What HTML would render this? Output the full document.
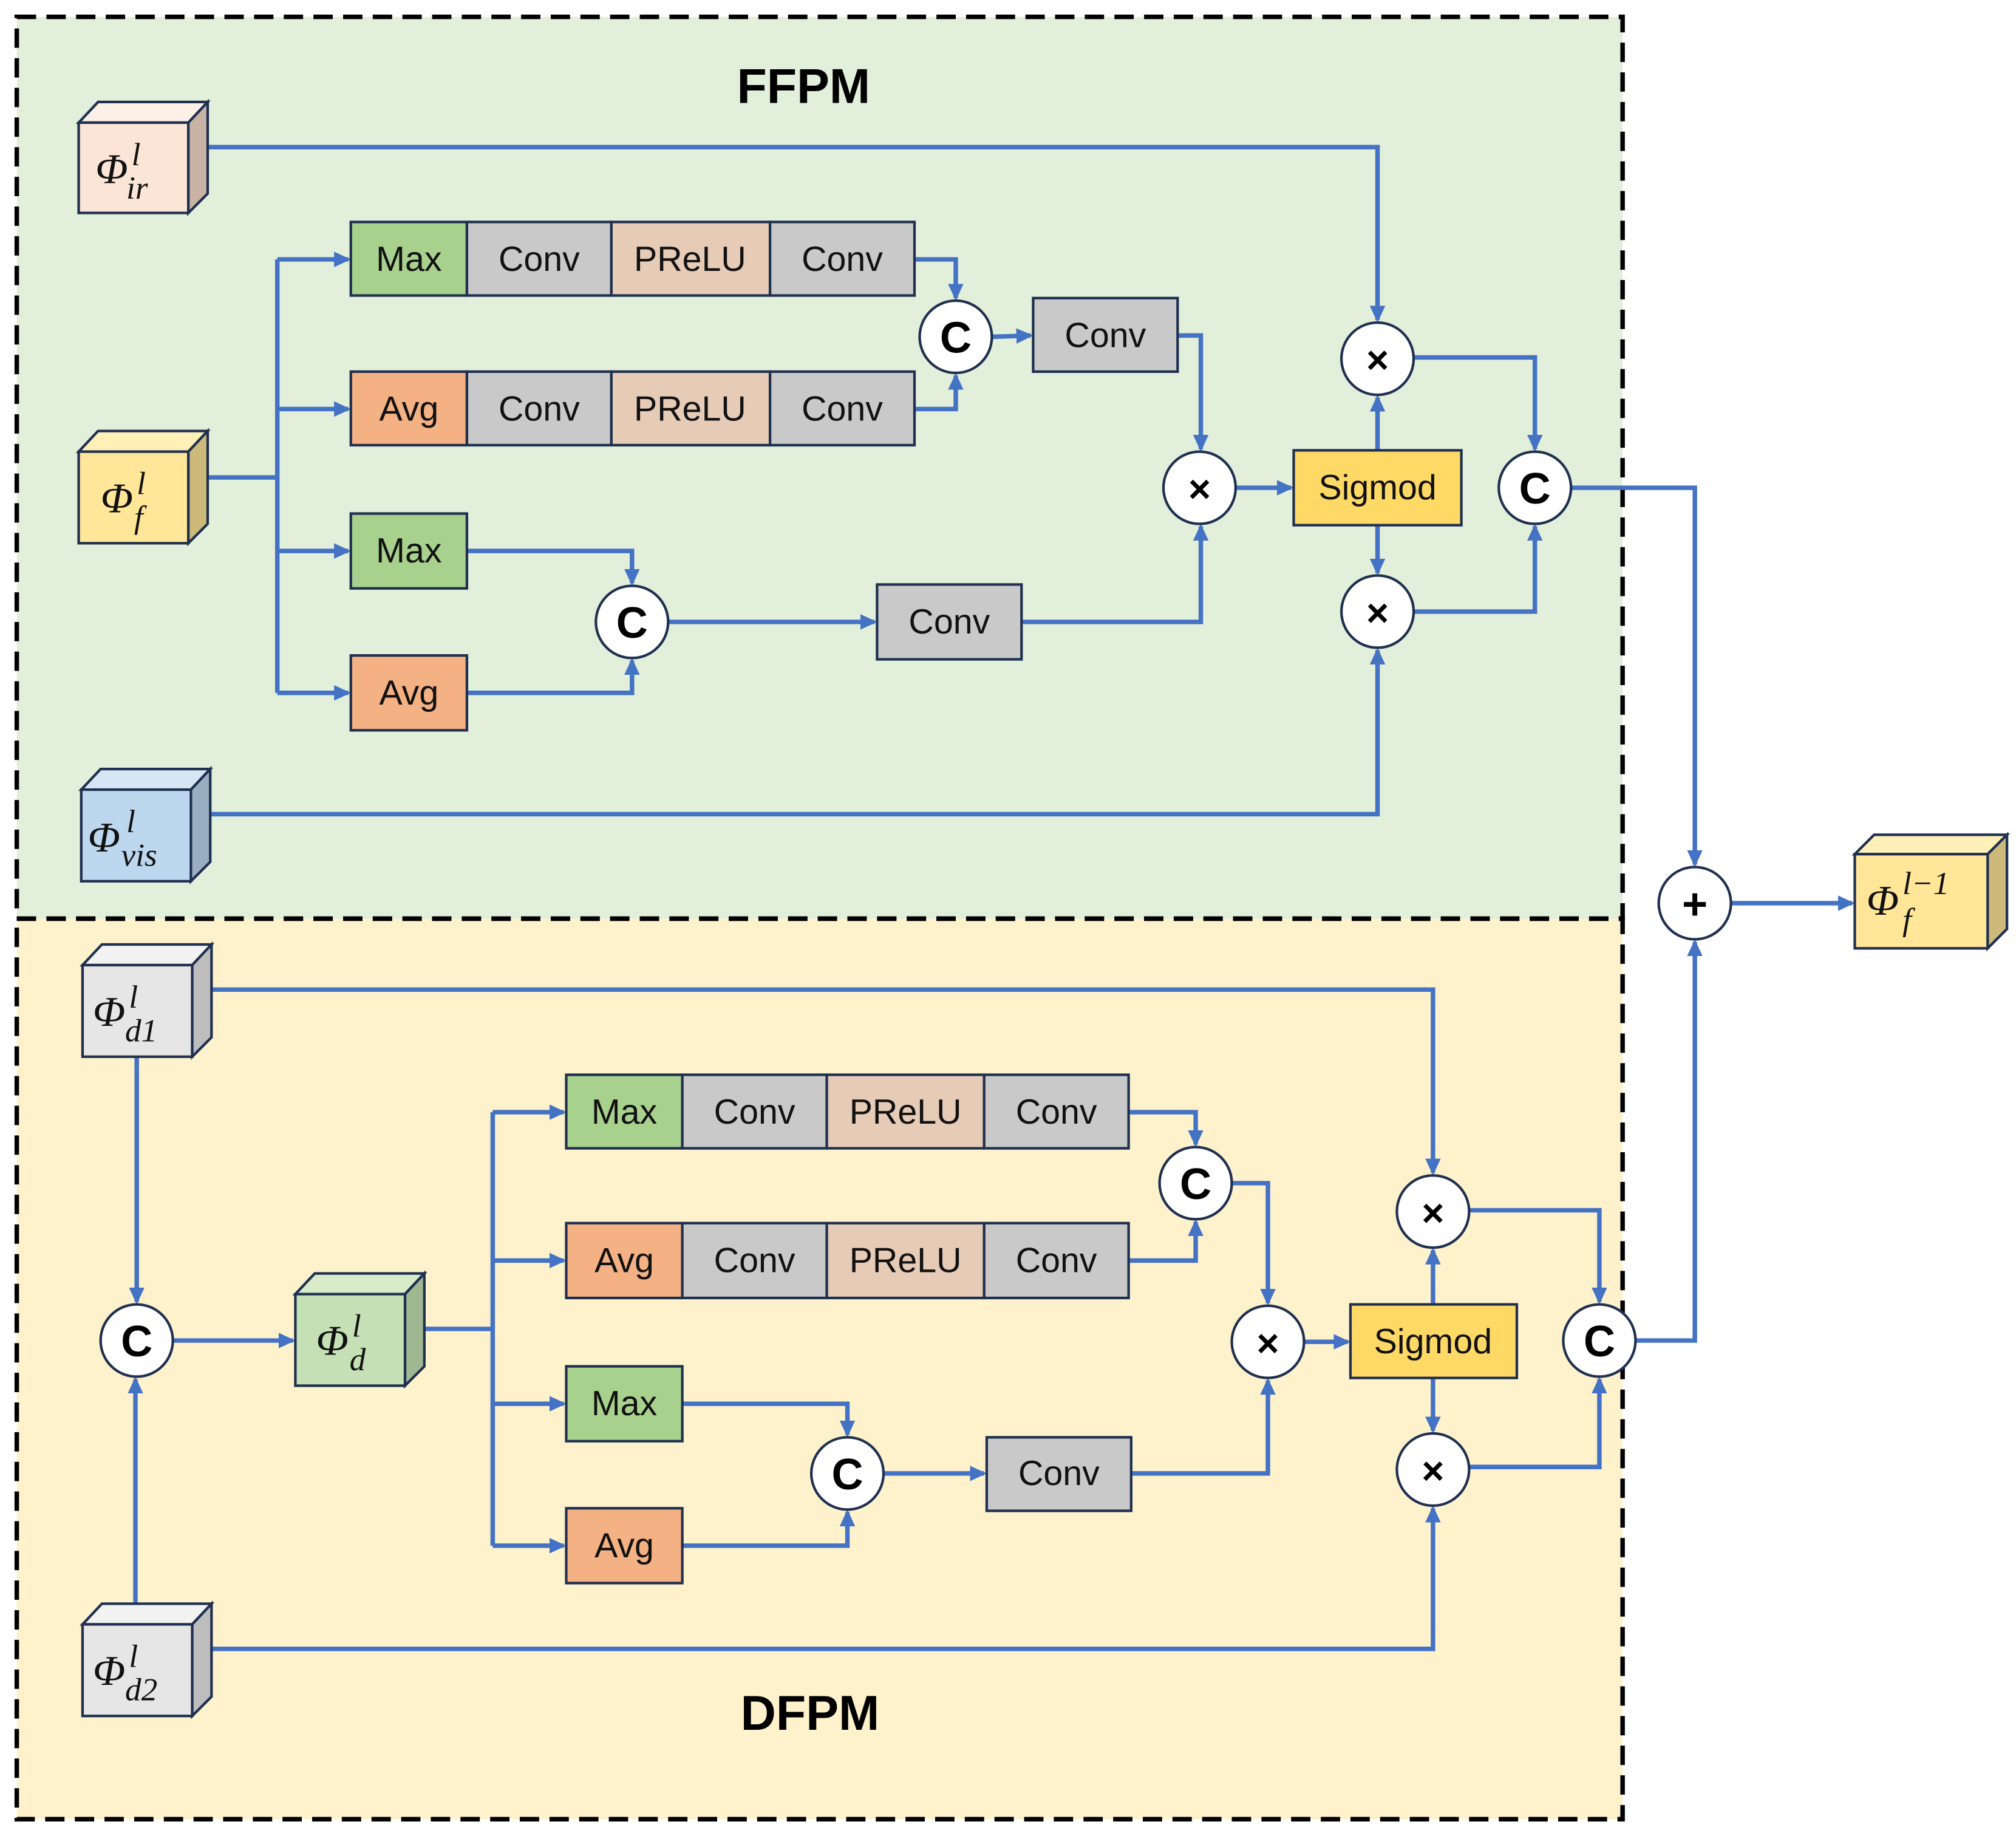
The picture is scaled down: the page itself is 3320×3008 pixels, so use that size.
<!DOCTYPE html>
<html><head><meta charset="utf-8"><style>
html,body{margin:0;padding:0;background:#fff}
svg{display:block}
.b{stroke:#1f3050;stroke-width:2}
.t{font-family:"Liberation Sans",sans-serif;font-size:27px;fill:#111;text-anchor:middle;dominant-baseline:central}
.c{font-family:"Liberation Sans",sans-serif;font-size:34px;font-weight:bold;fill:#000;text-anchor:middle;dominant-baseline:central}
.m{font-family:"Liberation Serif",serif;font-style:italic;fill:#111}
.l{fill:none;stroke:#4472c4;stroke-width:3.5;marker-end:url(#a)}
.n{fill:none;stroke:#4472c4;stroke-width:3.5}
</style></head><body>
<svg width="3320" height="3008" viewBox="0 0 1563 1416" xmlns="http://www.w3.org/2000/svg">
<defs><marker id="a" markerWidth="13" markerHeight="12" refX="11" refY="6" orient="auto" markerUnits="userSpaceOnUse"><path d="M0,0 L13,6 L0,12 z" fill="#4472c4"/></marker></defs>
<rect x="13" y="13" width="1245" height="699" fill="#e2efda"/>
<rect x="13" y="712" width="1245" height="698" fill="#fef2cd"/>
<rect x="13" y="13" width="1245" height="699" fill="none" stroke="#000" stroke-width="3.5" stroke-dasharray="15,8"/>
<rect x="13" y="712" width="1245" height="698" fill="none" stroke="#000" stroke-width="3.5" stroke-dasharray="15,8"/>
<text x="623" y="67" style="font-family:'Liberation Sans',sans-serif;font-weight:bold;font-size:38px" text-anchor="middle" dominant-baseline="central">FFPM</text>
<text x="628" y="1328" style="font-family:'Liberation Sans',sans-serif;font-weight:bold;font-size:38px" text-anchor="middle" dominant-baseline="central">DFPM</text>

<polyline class="l" points="161,114 1068,114 1068,248"/>
<polyline class="n" points="146,370 215,370"/>
<polyline class="n" points="215,201 215,537"/>
<polyline class="l" points="215,201 270,201"/>
<polyline class="l" points="215,317 270,317"/>
<polyline class="l" points="215,427 270,427"/>
<polyline class="l" points="215,537 270,537"/>
<polyline class="l" points="709,201 741,201 741,231"/>
<polyline class="l" points="709,317 741,317 741,291"/>
<polyline class="l" points="769,261 799,260"/>
<polyline class="l" points="913,260 931,260 931,348"/>
<polyline class="l" points="792,482 931,482 931,408"/>
<polyline class="l" points="958,378 1001,378"/>
<polyline class="l" points="1068,349 1068,308"/>
<polyline class="l" points="1068,407 1068,444"/>
<polyline class="l" points="1096,277 1190,277 1190,348"/>
<polyline class="l" points="1096,474 1190,474 1190,408"/>
<polyline class="l" points="362,427 490,427 490,452"/>
<polyline class="l" points="362,537 490,537 490,512"/>
<polyline class="l" points="518,482 678,482"/>
<polyline class="l" points="163,631 1068,631 1068,504"/>
<polyline class="l" points="1218,378 1314,378 1314,670"/>
<polyline class="l" points="1342,700 1436,700"/>
<polyline class="l" points="1268,1039 1314,1039 1314,730"/>
<polyline class="l" points="164,767 1111,767 1111,909"/>
<polyline class="l" points="106,819 106,1009"/>
<polyline class="l" points="105,1259 105,1069"/>
<polyline class="l" points="134,1039 227,1039"/>
<polyline class="n" points="329,1030 382,1030"/>
<polyline class="n" points="382,862 382,1198"/>
<polyline class="l" points="382,862 437,862"/>
<polyline class="l" points="382,977 437,977"/>
<polyline class="l" points="382,1088 437,1088"/>
<polyline class="l" points="382,1198 437,1198"/>
<polyline class="l" points="875,862 927,862 927,887"/>
<polyline class="l" points="875,977 927,977 927,947"/>
<polyline class="l" points="955,917 983,917 983,1010"/>
<polyline class="l" points="877,1142 983,1142 983,1070"/>
<polyline class="l" points="1011,1040 1045,1040"/>
<polyline class="l" points="1111,1011 1111,969"/>
<polyline class="l" points="1111,1068 1111,1109"/>
<polyline class="l" points="1139,938 1240,938 1240,1009"/>
<polyline class="l" points="1139,1137 1240,1137 1240,1069"/>
<polyline class="l" points="529,1088 657,1088 657,1112"/>
<polyline class="l" points="529,1198 657,1198 657,1172"/>
<polyline class="l" points="685,1142 763,1142"/>
<polyline class="l" points="164,1278 1111,1278 1111,1169"/>

<g class="b">
<rect x="272" y="172" width="90" height="57" fill="#a9d18e"/><rect x="362" y="172" width="112" height="57" fill="#c9c9c9"/><rect x="474" y="172" width="123" height="57" fill="#e6cbb7"/><rect x="597" y="172" width="112" height="57" fill="#c9c9c9"/>
<rect x="272" y="288" width="90" height="57" fill="#f4b183"/><rect x="362" y="288" width="112" height="57" fill="#c9c9c9"/><rect x="474" y="288" width="123" height="57" fill="#e6cbb7"/><rect x="597" y="288" width="112" height="57" fill="#c9c9c9"/>
<rect x="272" y="398" width="90" height="58" fill="#a9d18e"/>
<rect x="272" y="508" width="90" height="58" fill="#f4b183"/>
<rect x="801" y="231" width="112" height="57" fill="#c9c9c9"/>
<rect x="680" y="453" width="112" height="58" fill="#c9c9c9"/>
<rect x="1003" y="349" width="130" height="58" fill="#ffd966"/>
<circle cx="741" cy="261" r="28" fill="#fff"/><circle cx="930" cy="378" r="28" fill="#fff"/>
<circle cx="1068" cy="278" r="28" fill="#fff"/><circle cx="1068" cy="474" r="28" fill="#fff"/>
<circle cx="1190" cy="378" r="28" fill="#fff"/><circle cx="490" cy="482" r="28" fill="#fff"/>
<circle cx="1314" cy="700" r="28" fill="#fff"/>
<rect x="439" y="833" width="90" height="57" fill="#a9d18e"/><rect x="529" y="833" width="112" height="57" fill="#c9c9c9"/><rect x="641" y="833" width="122" height="57" fill="#e6cbb7"/><rect x="763" y="833" width="112" height="57" fill="#c9c9c9"/>
<rect x="439" y="948" width="90" height="58" fill="#f4b183"/><rect x="529" y="948" width="112" height="58" fill="#c9c9c9"/><rect x="641" y="948" width="122" height="58" fill="#e6cbb7"/><rect x="763" y="948" width="112" height="58" fill="#c9c9c9"/>
<rect x="439" y="1059" width="90" height="58" fill="#a9d18e"/>
<rect x="439" y="1169" width="90" height="58" fill="#f4b183"/>
<rect x="765" y="1114" width="112" height="57" fill="#c9c9c9"/>
<rect x="1047" y="1011" width="129" height="57" fill="#ffd966"/>
<circle cx="927" cy="917" r="28" fill="#fff"/><circle cx="983" cy="1040" r="28" fill="#fff"/>
<circle cx="1111" cy="939" r="28" fill="#fff"/><circle cx="1111" cy="1139" r="28" fill="#fff"/>
<circle cx="1240" cy="1039" r="28" fill="#fff"/><circle cx="657" cy="1142" r="28" fill="#fff"/>
<circle cx="106" cy="1039" r="28" fill="#fff"/>
</g>
<g class="t">
<text x="317" y="201">Max</text><text x="418" y="201">Conv</text><text x="535" y="201">PReLU</text><text x="653" y="201">Conv</text>
<text x="317" y="317">Avg</text><text x="418" y="317">Conv</text><text x="535" y="317">PReLU</text><text x="653" y="317">Conv</text>
<text x="317" y="427">Max</text><text x="317" y="537">Avg</text>
<text x="857" y="260">Conv</text><text x="736" y="482">Conv</text><text x="1068" y="378">Sigmod</text>
<text x="484" y="862">Max</text><text x="585" y="862">Conv</text><text x="702" y="862">PReLU</text><text x="819" y="862">Conv</text>
<text x="484" y="977">Avg</text><text x="585" y="977">Conv</text><text x="702" y="977">PReLU</text><text x="819" y="977">Conv</text>
<text x="484" y="1088">Max</text><text x="484" y="1198">Avg</text>
<text x="821" y="1142">Conv</text><text x="1111" y="1040">Sigmod</text>
</g>
<g class="c">
<text x="741" y="262">C</text><text x="1190" y="379">C</text><text x="490" y="483">C</text>
<text x="927" y="918">C</text><text x="1240" y="1040">C</text><text x="657" y="1143">C</text><text x="106" y="1040">C</text>
<text x="930" y="379" style="font-size:30px">×</text><text x="1068" y="279" style="font-size:30px">×</text><text x="1068" y="475" style="font-size:30px">×</text>
<text x="983" y="1041" style="font-size:30px">×</text><text x="1111" y="940" style="font-size:30px">×</text><text x="1111" y="1140" style="font-size:30px">×</text>
<text x="1314" y="701" style="font-size:34px">+</text>
</g>

<g class="b">
<g><polygon points="61,95 76,79 161,79 146,95" fill="#fdf0e6"/><polygon points="146,95 161,79 161,150 146,165" fill="#c9b3a5"/><rect x="61" y="95" width="85" height="70" fill="#fbe5d6"/></g>
<g><polygon points="61,350 76,334 161,334 146,350" fill="#fff0b8"/><polygon points="146,350 161,334 161,406 146,421" fill="#cdb97a"/><rect x="61" y="350" width="85" height="71" fill="#ffe699"/></g>
<g><polygon points="63,612 78,596 163,596 148,612" fill="#d6e6f5"/><polygon points="148,612 163,596 163,668 148,683" fill="#9aaec2"/><rect x="63" y="612" width="85" height="71" fill="#bdd7ee"/></g>
<g><polygon points="64,748 79,732 164,732 149,748" fill="#f2f2f2"/><polygon points="149,748 164,732 164,804 149,819" fill="#bdbdbd"/><rect x="64" y="748" width="85" height="71" fill="#e7e6e6"/></g>
<g><polygon points="229,1003 244,987 329,987 314,1003" fill="#d8ecca"/><polygon points="314,1003 329,987 329,1059 314,1074" fill="#a0b892"/><rect x="229" y="1003" width="85" height="71" fill="#c5e0b4"/></g>
<g><polygon points="64,1259 79,1243 164,1243 149,1259" fill="#f2f2f2"/><polygon points="149,1259 164,1243 164,1315 149,1330" fill="#bdbdbd"/><rect x="64" y="1259" width="85" height="71" fill="#e7e6e6"/></g>
<g><polygon points="1438,662 1453,647 1556,647 1541,662" fill="#fff0b8"/><polygon points="1541,662 1556,647 1556,720 1541,735" fill="#cdb97a"/><rect x="1438" y="662" width="103" height="73" fill="#ffe699"/></g>
</g>
<g class="m">
<text x="74" y="142" font-size="33">Φ</text><text x="102" y="128" font-size="25">l</text><text x="98" y="154" font-size="25">ir</text>
<text x="78" y="397" font-size="33">Φ</text><text x="106" y="383" font-size="25">l</text><text x="104" y="409" font-size="25">f</text>
<text x="68" y="660" font-size="33">Φ</text><text x="98" y="645" font-size="25">l</text><text x="94" y="671" font-size="25">vis</text>
<text x="72" y="795" font-size="33">Φ</text><text x="100" y="781" font-size="25">l</text><text x="97" y="807" font-size="25">d1</text>
<text x="245" y="1050" font-size="33">Φ</text><text x="273" y="1036" font-size="25">l</text><text x="271" y="1062" font-size="25">d</text>
<text x="72" y="1306" font-size="33">Φ</text><text x="100" y="1292" font-size="25">l</text><text x="97" y="1318" font-size="25">d2</text>
<text x="1447" y="709" font-size="33">Φ</text><text x="1475" y="693" font-size="25">l−1</text><text x="1475" y="721" font-size="25">f</text>
</g>
</svg>
</body></html>
